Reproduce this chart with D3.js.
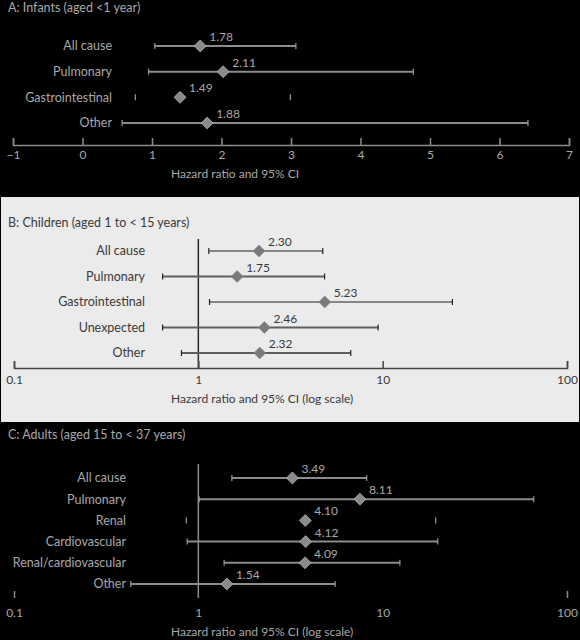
<!DOCTYPE html>
<html>
<head>
<meta charset="utf-8">
<script src="https://cdn.jsdelivr.net/npm/d3@7"></script>
<style>
  body { margin: 0; background: #000; }
  svg { display: block; font-family: Lato, "Noto Sans", sans-serif; }
</style>
</head>
<body>
<div id="vis"></div>
<script>
const FRAME_WIDTH = 580;
const FRAME_HEIGHT = 640;

// data
const infantCauses = ["All cause", "Pulmonary", "Gastrointestinal", "Other"];
const infantHR = [1.78, 2.11, 1.49, 1.88];
const infantLow = [1.04, 0.95, 0.76, 0.57];
const infantHigh = [3.07, 4.76, 2.99, 6.41];
const infantTicks = [-1, 0, 1, 2, 3, 4, 5, 6, 7];

const childCauses = ["All cause", "Pulmonary", "Gastrointestinal", "Unexpected", "Other"];
const childHR = [2.30, 1.75, 5.23, 2.46, 2.32];
const childLow = [1.14, 0.64, 1.15, 0.64, 0.81];
const childHigh = [4.73, 4.84, 23.9, 9.45, 6.71];

const adultCauses = ["All cause", "Pulmonary", "Renal", "Cardiovascular", "Renal/cardiovascular", "Other"];
const adultHR = [3.49, 8.11, 4.10, 4.12, 4.09, 1.54];
const adultLow = [1.52, 1.01, 0.86, 0.87, 1.38, 0.43];
const adultHigh = [8.19, 66, 19.4, 19.9, 12.4, 5.52];

const logTicks = [0.1, 1, 10, 100];

const svg = d3.select("#vis")
  .append("svg")
    .attr("width", FRAME_WIDTH)
    .attr("height", FRAME_HEIGHT);

svg.append("rect")
  .attr("width", FRAME_WIDTH)
  .attr("height", FRAME_HEIGHT)
  .attr("fill", "#000");

// light panel behind B
svg.append("rect")
  .attr("x", 1).attr("y", 197)
  .attr("width", 578).attr("height", 225)
  .attr("fill", "#ebebeb");

const diamond = d3.symbol(d3.symbolSquare, 72);

function panel(o) {
  const g = svg.append("g");
  const rows = d3.range(o.causes.length);
  const Y = d3.scalePoint().domain(rows).range([o.rowTop, o.rowBottom]);

  g.append("text")
    .attr("x", 8).attr("y", o.titleY)
    .attr("dy", "0.35em")
    .attr("font-size", 12.5)
    .attr("fill", o.text)
    .text(o.title);

  // reference line at 1
  if (o.refTop != null) {
    g.append("line")
      .attr("x1", o.X(1)).attr("x2", o.X(1))
      .attr("y1", o.refTop).attr("y2", o.axisY)
      .attr("stroke", o.refColor).attr("stroke-width", 1.5);
  }

  const axis = d3.axisBottom(o.X)
    .tickValues(o.ticks)
    .tickFormat(o.fmt)
    .tickSize(-7)
    .tickSizeOuter(-7)
    .tickPadding(o.pad);
  const ax = g.append("g")
    .attr("transform", `translate(0,${o.axisY})`)
    .call(axis);
  ax.selectAll("path, line").attr("stroke", o.axisColor).attr("stroke-width", 1.5);
  ax.selectAll("text").attr("fill", o.text).attr("font-size", 12)
    .attr("font-family", "Lato, 'Noto Sans', sans-serif");
  if (!o.showDomain) {
    ax.select(".domain").remove();
    // only the end ticks survive in this panel
    ax.selectAll(".tick line").filter(d => d > 0.1 && d < 100).remove();
  }

  g.append("text")
    .attr("x", 171).attr("y", o.axisTitleY)
    .attr("dy", "0.35em")
    .attr("font-size", 12)
    .attr("fill", o.text)
    .text(o.axisTitle);

  // cause labels
  g.selectAll(".cause")
    .data(rows).enter()
    .append("text")
      .attr("x", o.labelX).attr("y", d => Y(d))
      .attr("dy", "0.35em")
      .attr("text-anchor", "end")
      .attr("font-size", 12.5)
      .attr("fill", o.text)
      .text(d => o.causes[d]);

  // CI lines
  g.selectAll(".ci")
    .data(rows.filter(d => !o.hidden.includes(o.causes[d]))).enter()
    .append("line")
      .attr("x1", d => o.X(o.low[d])).attr("x2", d => o.X(o.high[d]))
      .attr("y1", d => Y(d)).attr("y2", d => Y(d))
      .attr("stroke", d => o.thin.includes(o.causes[d]) ? o.thinColor : o.lineColor)
      .attr("stroke-width", d => o.thin.includes(o.causes[d]) ? 1.2 : 2);

  // caps
  const caps = rows.flatMap(d => [[d, o.low[d]], [d, o.high[d]]]);
  g.selectAll(".cap")
    .data(caps).enter()
    .append("line")
      .attr("x1", d => o.X(d[1])).attr("x2", d => o.X(d[1]))
      .attr("y1", d => Y(d[0]) - 3).attr("y2", d => Y(d[0]) + 3)
      .attr("stroke", o.capColor).attr("stroke-width", 1.2);

  // diamonds, right tip sits on the estimate
  g.selectAll(".hr")
    .data(rows).enter()
    .append("path")
      .attr("d", diamond)
      .attr("transform", d => `translate(${o.X(o.hr[d]) - 6},${Y(d)}) rotate(45)`)
      .attr("fill", o.diamond)
      .attr("stroke", o.diamondEdge).attr("stroke-width", 0.6);

  g.selectAll(".val")
    .data(rows).enter()
    .append("text")
      .attr("x", d => o.X(o.hr[d]) + 3)
      .attr("y", d => Y(d) - 5)
      .attr("font-size", 12)
      .attr("fill", o.text)
      .text(d => o.hr[d].toFixed(2));
}

const X_LIN = d3.scaleLinear().domain([-1, 7]).range([13, 569]);
const X_LOG = d3.scaleLog().domain([0.1, 100]).range([14, 567]);

const dark = {
  text: "#a8a8a8", axisColor: "#8c8c8c", lineColor: "#8c8c8c", thinColor: "#8c8c8c",
  capColor: "#9a9a9a", refColor: "#8c8c8c", diamond: "#8a8a8a", diamondEdge: "#c8c8c8"
};

panel(Object.assign({}, dark, {
  title: "A: Infants (aged <1 year)", titleY: 8,
  causes: infantCauses, hr: infantHR, low: infantLow, high: infantHigh,
  X: X_LIN, ticks: infantTicks, fmt: d3.format("d"), pad: 5,
  rowTop: 46, rowBottom: 123, labelX: 112,
  axisY: 145, axisTitleY: 174, axisTitle: "Hazard ratio and 95% CI",
  refTop: null, showDomain: true,
  hidden: ["Gastrointestinal"], thin: []
}));

panel({
  text: "#3a3a3a", axisColor: "#444", lineColor: "#5e5e5e", thinColor: "#222",
  capColor: "#222", refColor: "#2a2a2a", diamond: "#7a7a7a", diamondEdge: "#8a8a8a",
  title: "B: Children (aged 1 to < 15 years)", titleY: 223,
  causes: childCauses, hr: childHR, low: childLow, high: childHigh,
  X: X_LOG, ticks: logTicks, fmt: d3.format("~g"), pad: 7,
  rowTop: 251, rowBottom: 353, labelX: 145,
  axisY: 368, axisTitleY: 399, axisTitle: "Hazard ratio and 95% CI (log scale)",
  refTop: 239, showDomain: true,
  hidden: [], thin: ["All cause", "Gastrointestinal"]
});

panel(Object.assign({}, dark, {
  title: "C: Adults (aged 15 to < 37 years)", titleY: 435,
  causes: adultCauses, hr: adultHR, low: adultLow, high: adultHigh,
  X: X_LOG, ticks: logTicks, fmt: d3.format("~g"), pad: 10,
  rowTop: 478, rowBottom: 584, labelX: 126,
  axisY: 598, axisTitleY: 632, axisTitle: "Hazard ratio and 95% CI (log scale)",
  refTop: 464, showDomain: false,
  hidden: ["Renal"], thin: []
}));
</script>
</body>
</html>
